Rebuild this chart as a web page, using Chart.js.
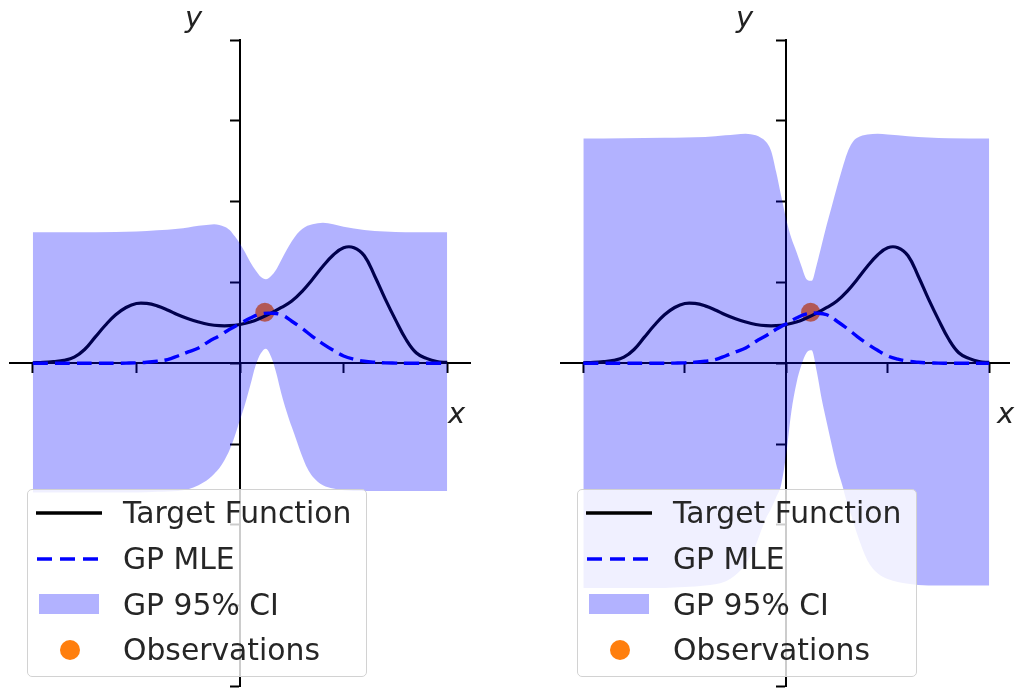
<!DOCTYPE html>
<html>
<head>
<meta charset="utf-8">
<script src="https://cdn.jsdelivr.net/npm/chart.js@4.4.0/dist/chart.umd.min.js"></script>
<style>
html,body{margin:0;padding:0;background:#fff;overflow:hidden;width:1019px;height:696px;}
canvas{position:absolute;top:0;}
.lbl{position:absolute;font-family:"DejaVu Sans";font-style:italic;font-size:29px;line-height:29px;color:#222;white-space:nowrap;}
.legend{position:absolute;background:rgba(255,255,255,0.8);border:1.5px solid #d2d2d2;border-radius:5px;box-sizing:border-box;}
.ltxt{position:absolute;font-family:"DejaVu Sans";font-size:29.8px;line-height:30px;color:#262626;white-space:nowrap;}
.lsym{position:absolute;}
</style>
</head>
<body>
<canvas id="left" width="510" height="696" style="left:0px"></canvas>
<canvas id="right" width="509" height="696" style="left:510px"></canvas>
<script>
// ---------- data ----------
const xGrid = [-2.0,-1.9,-1.8,-1.7,-1.6,-1.5,-1.4,-1.3,-1.2,-1.1,-1.0,-0.9,-0.8,-0.7,-0.6,-0.5,-0.4,-0.3,-0.2,-0.1,0.0,0.1,0.2,0.3,0.4,0.5,0.6,0.7,0.8,0.9,1.0,1.1,1.2,1.3,1.4,1.5,1.6,1.7,1.8,1.9,2.0];
const targetY = [0.005,0.01,0.02,0.035,0.075,0.17,0.32,0.47,0.60,0.69,0.74,0.74,0.71,0.66,0.60,0.55,0.51,0.48,0.465,0.465,0.48,0.51,0.56,0.62,0.69,0.77,0.89,1.04,1.20,1.34,1.43,1.43,1.33,1.08,0.80,0.54,0.30,0.13,0.06,0.02,0.01];
const gpMean = [0,0,0,0,0,0,0,0,0,0.002,0.005,0.012,0.025,0.045,0.09,0.14,0.19,0.27,0.34,0.42,0.49,0.56,0.61,0.62,0.60,0.52,0.43,0.33,0.24,0.16,0.09,0.05,0.025,0.012,0.005,0.002,0,0,0,0,0];
const bandX = [-2.0,-1.6,-1.2,-1.0,-0.8,-0.6,-0.5,-0.4,-0.3,-0.25,-0.2,-0.15,-0.1,-0.05,0.0,0.05,0.1,0.15,0.2,0.25,0.3,0.35,0.4,0.45,0.5,0.55,0.6,0.65,0.7,0.8,0.9,1.0,1.2,1.4,1.6,2.0];
const leftUpper = [1.62,1.62,1.625,1.63,1.645,1.665,1.68,1.70,1.715,1.72,1.71,1.69,1.65,1.57,1.48,1.37,1.25,1.15,1.07,1.04,1.08,1.16,1.28,1.40,1.51,1.60,1.66,1.70,1.72,1.74,1.72,1.69,1.65,1.63,1.62,1.62];
const leftLower = [-1.60,-1.60,-1.60,-1.60,-1.59,-1.58,-1.56,-1.51,-1.43,-1.37,-1.30,-1.20,-1.07,-0.90,-0.70,-0.50,-0.27,-0.03,0.12,0.18,0.08,-0.12,-0.38,-0.60,-0.79,-0.97,-1.15,-1.30,-1.40,-1.51,-1.55,-1.57,-1.58,-1.58,-1.58,-1.58];
const rightUpper = [2.78,2.785,2.79,2.795,2.80,2.82,2.83,2.84,2.82,2.79,2.74,2.63,2.37,2.07,1.78,1.55,1.38,1.20,1.04,1.02,1.22,1.47,1.72,1.95,2.18,2.40,2.60,2.73,2.79,2.83,2.84,2.83,2.81,2.795,2.785,2.78];
const rightLower = [-2.78,-2.78,-2.78,-2.77,-2.75,-2.70,-2.62,-2.48,-2.25,-2.08,-1.92,-1.80,-1.66,-1.50,-1.12,-0.60,-0.25,-0.02,0.13,0.16,-0.10,-0.45,-0.74,-1.02,-1.29,-1.50,-1.73,-1.92,-2.12,-2.44,-2.60,-2.67,-2.73,-2.75,-2.75,-2.75];
const obsX = [0.24];
const obsY = [0.63];
const xTickValues = [-2,-1,0,1,2];
const yTickValues = [-4,-3,-2,-1,0,1,2,3,4];
const legendLabels = ['Target Function','GP MLE','GP 95% CI','Observations'];
const axisNames = ['x','y'];

// ---------- chart builder ----------
function pts(xs, ys){ return xs.map((x,i)=>({x:x, y:ys[i]})); }

function buildChart(id, upper, lower, xMin, xMax, pad){
  return new Chart(document.getElementById(id), {
    type:'line',
    data:{datasets:[
      {label:legendLabels[3], data:pts(obsX,obsY), showLine:false, pointRadius:9.5, pointHoverRadius:9.5,
       pointBackgroundColor:'#ff7f0e', pointBorderWidth:0, borderColor:'#ff7f0e', order:4},
      {label:legendLabels[0], data:pts(xGrid,targetY), borderColor:'#000000', borderWidth:3.2, pointRadius:0,
       tension:0.4, fill:false, order:3},
      {label:legendLabels[1], data:pts(xGrid,gpMean), borderColor:'#0000ff', borderWidth:3.4, borderDash:[15,7],
       pointRadius:0, tension:0.4, fill:false, order:2},
      {label:'upper', data:pts(bandX,upper), borderColor:'transparent', borderWidth:0, pointRadius:0,
       cubicInterpolationMode:'monotone', fill:false, order:1},
      {label:legendLabels[2], data:pts(bandX,lower), borderColor:'transparent', borderWidth:0, pointRadius:0,
       cubicInterpolationMode:'monotone', fill:'-1', backgroundColor:'rgba(0,0,255,0.3)', order:0}
    ]},
    options:{
      responsive:false, animation:false, devicePixelRatio:1, events:[],
      layout:{padding:pad},
      plugins:{legend:{display:false}, tooltip:{enabled:false}},
      scales:{
        x:{type:'linear', min:xMin, max:xMax, position:{y:0},
           afterFit:s=>{s.height=0;},
           afterBuildTicks:s=>{s.ticks=xTickValues.map(v=>({value:v}));},
           ticks:{display:false},
           grid:{drawOnChartArea:false, drawTicks:true, tickLength:9, tickWidth:2, tickColor:'#000', color:'#000'},
           border:{display:true, color:'#000', width:2}},
        y:{type:'linear', min:-4, max:4, position:{x:0},
           afterFit:s=>{s.width=0;},
           afterBuildTicks:s=>{s.ticks=yTickValues.map(v=>({value:v}));},
           ticks:{display:false},
           grid:{drawOnChartArea:false, drawTicks:true, tickLength:9, tickWidth:2, tickColor:'#000', color:'#000'},
           border:{display:true, color:'#000', width:2}}
      }
    }
  });
}

buildChart('left', leftUpper, leftLower, -2.22, 2.22, {left:10, right:40, top:40, bottom:6});
buildChart('right', rightUpper, rightLower, -2.22, 2.2, {left:51, right:0, top:40, bottom:6});

// ---------- axis labels and legends (HTML text) ----------
function addLabel(text, left, top){
  const d=document.createElement('div'); d.className='lbl'; d.textContent=text;
  d.style.left=left+'px'; d.style.top=top+'px'; document.body.appendChild(d);
}
addLabel(axisNames[1], 185, 3);
addLabel(axisNames[0], 448, 399);
addLabel(axisNames[1], 736, 3);
addLabel(axisNames[0], 997, 399);

function addLegend(left, top){
  const box=document.createElement('div'); box.className='legend';
  box.style.left=left+'px'; box.style.top=top+'px'; box.style.width='340px'; box.style.height='188px';
  const rowsY=[24,70,115.5,161];
  const symbols=[
    '<svg width="66" height="8"><line x1="0" y1="4" x2="66" y2="4" stroke="#000" stroke-width="3.5"/></svg>',
    '<svg width="66" height="8"><line x1="1" y1="4" x2="66" y2="4" stroke="#0000ff" stroke-width="3.5" stroke-dasharray="15,8"/></svg>',
    '<svg width="66" height="22"><rect x="3" y="1" width="60" height="20" fill="rgba(0,0,255,0.3)"/></svg>',
    '<svg width="66" height="22"><circle cx="34" cy="11" r="10" fill="#ff7f0e"/></svg>'
  ];
  legendLabels.forEach((lab,i)=>{
    const s=document.createElement('div'); s.className='lsym'; s.innerHTML=symbols[i];
    const h = (i<2)?8:22;
    s.style.left='8px'; s.style.top=(rowsY[i]-h/2-1.5)+'px'; s.style.height=h+'px'; s.style.lineHeight='0';
    box.appendChild(s);
    const t=document.createElement('div'); t.className='ltxt'; t.textContent=lab;
    t.style.left='95px'; t.style.top=(rowsY[i]-16)+'px';
    box.appendChild(t);
  });
  document.body.appendChild(box);
}
addLegend(27, 489);
addLegend(577, 489);
</script>
</body>
</html>
